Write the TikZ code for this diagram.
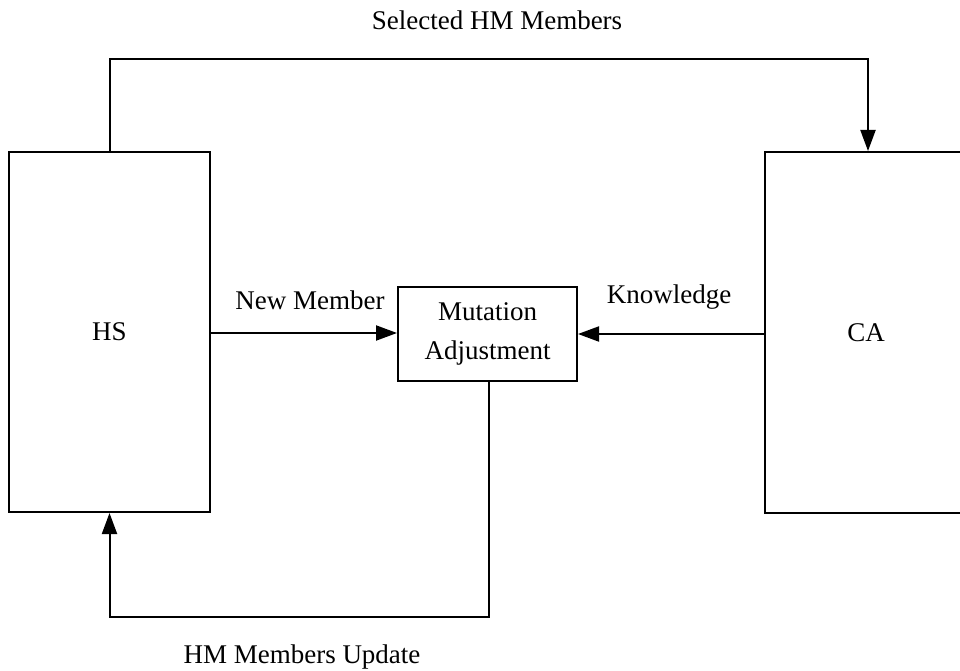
\documentclass[tikz,border=0pt]{standalone}
\usepackage{fontspec}
\setmainfont{Liberation Serif}
\usetikzlibrary{arrows.meta}
\begin{document}
\begin{tikzpicture}[x=1pt,y=-1pt,
  every node/.style={font=\fontsize{27}{33}\selectfont},
  box/.style={draw,line width=2pt,inner sep=0pt},
  conn/.style={line width=2pt},
  arr/.style={conn,-{Triangle[length=21pt,width=15pt]}},
  lbl/.style={inner sep=0pt}]
\useasboundingbox (0,0) rectangle (960,671);
\clip (0,0) rectangle (960,671);
\node[box,minimum width=201pt,minimum height=360pt] (hs) at (109.5,332) {HS};
\node[box,minimum width=202pt,minimum height=361pt] (ca) at (866,332.5) {CA};
\node[box,minimum width=179pt,minimum height=94pt,align=center,
      font=\fontsize{27}{39}\selectfont] (mut) at (487.5,333.5) {Mutation\\Adjustment};
\coordinate (t1) at (109.5,59);
\coordinate (t2) at (868,59);
\coordinate (b1) at (489,617);
\coordinate (b2) at (109.5,617);
\draw[arr] (hs.north) -- (t1) -- (t2) -- (t2 |- ca.north);
\draw[arr] (hs.east |- 0,333) -- (mut.west |- 0,333);
\draw[arr] (ca.west |- 0,334) -- (mut.east |- 0,334);
\draw[arr] (mut.south -| b1) -- (b1) -- (b2) -- (hs.south);
\node[lbl] (l1) at (497,20) {Selected HM Members};
\node[lbl] (l2) at (310,300) {New Member};
\node[lbl] (l3) at (669,297) {Knowledge};
\node[lbl] (l4) at (302,657) {HM Members Update};
\end{tikzpicture}
\end{document}
